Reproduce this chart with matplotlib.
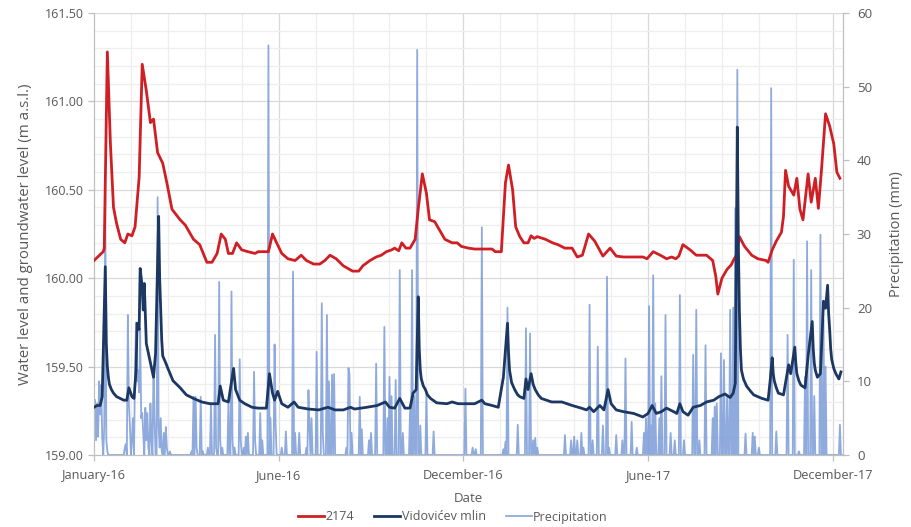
import numpy as np
import matplotlib
matplotlib.use("Agg")
import matplotlib.pyplot as plt
from matplotlib.ticker import MultipleLocator, FixedLocator

plt.rcParams['font.family'] = ['Open Sans', 'DejaVu Sans']

# ---------------- data (day index from 1 Jan 2016) ----------------
red_days = [0, 9, 10, 13, 16, 19, 22, 26, 30, 33, 37, 40, 44, 47, 51, 55, 58, 62, 67, 71, 76, 84, 89, 97,
            103, 110, 115, 120, 124, 128, 131, 135, 139, 144, 150, 157, 160, 170, 174, 178, 183, 189, 196,
            202, 207, 214, 220, 225, 230, 236, 243, 252, 258, 262, 269, 275, 280, 285, 290, 293, 297, 300,
            304, 308, 313, 316, 320, 324, 327, 332, 337, 342, 349, 354, 358, 365, 371, 388, 391, 397, 401,
            404, 408, 411, 415, 419, 423, 426, 429, 432, 440, 447, 452, 459, 466, 471, 476, 482, 488, 496,
            503, 509, 516, 526, 535, 539, 545, 552, 558, 563, 567, 570, 574, 581, 587, 597, 603, 606, 608,
            612, 617, 621, 624, 626, 629, 634, 641, 647, 655, 657, 661, 665, 670, 672, 674, 677, 682, 685,
            688, 691, 696, 699, 703, 706, 709, 713, 717, 721, 724, 727]
red_vals = [160.10, 160.15, 160.17, 161.28, 160.76, 160.40, 160.31, 160.22, 160.20, 160.25, 160.24, 160.29,
            160.57, 161.21, 161.06, 160.88, 160.90, 160.71, 160.65, 160.54, 160.39, 160.33, 160.30, 160.22,
            160.19, 160.09, 160.09, 160.14, 160.25, 160.22, 160.14, 160.14, 160.20, 160.16, 160.15, 160.14,
            160.15, 160.15, 160.25, 160.20, 160.14, 160.11, 160.10, 160.13, 160.10, 160.08, 160.08, 160.10,
            160.13, 160.11, 160.07, 160.04, 160.04, 160.07, 160.10, 160.12, 160.13, 160.15, 160.16, 160.17,
            160.155, 160.20, 160.17, 160.17, 160.22, 160.39, 160.59, 160.48, 160.33, 160.32, 160.27, 160.22,
            160.20, 160.20, 160.18, 160.17, 160.165, 160.165, 160.15, 160.15, 160.54, 160.64, 160.50, 160.29,
            160.235, 160.20, 160.20, 160.24, 160.225, 160.235, 160.22, 160.20, 160.19, 160.17, 160.17, 160.12,
            160.13, 160.25, 160.21, 160.125, 160.17, 160.125, 160.12, 160.12, 160.12, 160.11, 160.15, 160.13,
            160.11, 160.12, 160.11, 160.125, 160.19, 160.16, 160.13, 160.13, 160.10, 160.01, 159.91, 160.00,
            160.05, 160.075, 160.11, 160.13, 160.235, 160.18, 160.13, 160.11, 160.10, 160.09, 160.16, 160.21,
            160.26, 160.35, 160.61, 160.52, 160.47, 160.565, 160.39, 160.33, 160.59, 160.43, 160.565, 160.395,
            160.61, 160.93, 160.86, 160.76, 160.60, 160.565]

navy_days = [0, 3, 6, 8, 11, 12, 13, 14, 15, 17, 19, 22, 29, 32, 34, 37, 39, 41, 42, 44, 45, 47, 48, 49, 51,
             55, 58, 60, 63, 64, 65, 66, 67, 70, 72, 77, 84, 90, 97, 105, 113, 121, 123, 126, 131, 136, 138,
             142, 147, 154, 160, 168, 171, 174, 176, 179, 183, 189, 195, 199, 209, 219, 228, 235, 243, 250,
             254, 266, 276, 284, 288, 293, 298, 303, 308, 311, 314, 316, 317, 318, 319, 321, 323, 325, 328,
             334, 344, 349, 355, 365, 371, 378, 381, 388, 394, 399, 403, 404, 405, 407, 410, 413, 415, 419,
             421, 423, 426, 428, 430, 433, 436, 446, 456, 466, 475, 480, 483, 487, 493, 497, 501, 504, 509,
             516, 526, 535, 540, 544, 548, 553, 558, 565, 568, 571, 574, 579, 584, 591, 597, 604, 609, 615,
             620, 623, 625, 627, 628, 629, 630, 631, 633, 636, 640, 643, 651, 657, 659, 661, 662, 663, 665,
             667, 672, 675, 677, 679, 683, 684, 685, 687, 689, 693, 696, 700, 701, 702, 703, 705, 708, 711,
             713, 715, 716, 717, 718, 719, 721, 723, 726, 728]
navy_vals = [159.27, 159.28, 159.28, 159.33, 160.065, 159.63, 159.50, 159.44, 159.40, 159.37, 159.35, 159.33,
             159.31, 159.31, 159.38, 159.33, 159.32, 159.48, 159.745, 159.71, 160.055, 159.95, 159.82, 159.97,
             159.63, 159.52, 159.44, 159.575, 160.35, 160.00, 159.82, 159.65, 159.56, 159.52, 159.49, 159.42,
             159.38, 159.34, 159.32, 159.30, 159.29, 159.29, 159.39, 159.31, 159.30, 159.49, 159.37, 159.31,
             159.29, 159.27, 159.265, 159.265, 159.46, 159.35, 159.31, 159.36, 159.29, 159.27, 159.30, 159.27,
             159.26, 159.255, 159.27, 159.255, 159.255, 159.27, 159.26, 159.27, 159.28, 159.30, 159.27,
             159.265, 159.32, 159.265, 159.265, 159.35, 159.37, 159.895, 159.60, 159.48, 159.43, 159.39,
             159.37, 159.34, 159.32, 159.295, 159.29, 159.30, 159.29, 159.29, 159.29, 159.31, 159.29, 159.28,
             159.27, 159.44, 159.745, 159.58, 159.48, 159.41, 159.37, 159.34, 159.33, 159.32, 159.43, 159.37,
             159.46, 159.40, 159.37, 159.34, 159.32, 159.30, 159.30, 159.28, 159.265, 159.255, 159.27, 159.245,
             159.28, 159.255, 159.37, 159.29, 159.255, 159.245, 159.235, 159.215, 159.235, 159.28, 159.235,
             159.245, 159.265, 159.245, 159.235, 159.29, 159.245, 159.225, 159.27, 159.28, 159.30, 159.31,
             159.33, 159.345, 159.325, 159.35, 159.405, 160.855, 160.20, 159.82, 159.60, 159.48, 159.43,
             159.39, 159.36, 159.34, 159.32, 159.31, 159.42, 159.55, 159.46, 159.42, 159.38, 159.35, 159.34,
             159.44, 159.51, 159.46, 159.61, 159.52, 159.46, 159.42, 159.395, 159.38, 159.56, 159.755, 159.60,
             159.52, 159.48, 159.44, 159.46, 159.87, 159.83, 159.96, 159.80, 159.71, 159.60, 159.54, 159.49,
             159.46, 159.43, 159.47]

# precipitation: rain days (day index) and amounts in mm; other days are 0
rain_days = [0, 1, 2, 3, 4, 5, 6, 7, 8, 10, 11, 12, 13, 30, 31, 33, 34, 35, 37, 38, 40, 41, 42, 43, 44, 45,
             46, 47, 48, 50, 51, 52, 53, 55, 56, 58, 59, 62, 63, 64, 65, 66, 68, 70, 71, 74,
             95, 97, 99, 100, 104, 106, 111, 114, 118, 119, 122, 123, 125, 131, 134, 135, 137, 142, 143, 146,
             148, 150, 156, 157, 162, 164, 170, 172, 176, 177, 183, 187, 194, 196, 200, 207, 209, 210, 212,
             217, 222, 223, 227, 229, 232, 234, 246, 248, 249, 251, 259, 261, 268, 270, 275, 283, 286, 288,
             290, 294, 298, 301, 308, 310, 312, 315, 318, 324, 331, 362, 369, 372, 378, 399, 401, 403, 413,
             421, 425, 428, 430, 432, 459, 465, 468, 471, 475, 477, 483, 486, 491, 496, 500, 502, 509, 515,
             518, 524, 529, 536, 538, 541, 543, 545, 547, 551, 553, 557, 562, 566, 571, 575, 584, 587, 590,
             596, 603, 605, 607, 611, 614, 617, 620, 623, 625, 627, 635, 642, 644, 648, 660, 665, 676, 682,
             687, 693, 695, 699, 702, 708, 711, 713, 727]
rain_mm = [3, 7.5, 2, 7, 2.5, 10, 5.5, 9.5, 2.5, 4, 35, 2, 0.5, 1, 1.5, 19, 7, 4, 2, 5, 11.8, 18, 10, 11.5,
           8.5, 17, 5, 5.7, 3, 6.4, 2, 5.7, 1, 7, 2, 12, 5, 35, 3.8, 1, 5, 0.5, 3, 3.8, 1, 0.5,
           0.5, 7.9, 7.9, 1, 7.9, 0.5, 1, 7, 16.3, 1, 23.5, 2, 1, 7, 22.2, 2, 1, 13, 2, 1,
           2.5, 3, 11.3, 2, 5.7, 2, 55.6, 5, 15, 4, 1, 3.2, 24.9, 3, 3, 1, 8.8, 4, 5,
           14, 20.6, 3, 19, 10, 10.9, 11, 1, 11.8, 11, 3, 7.9, 3.5, 2, 3, 12.4, 17.4, 5, 10.6,
           8, 10.2, 25.1, 3, 6, 25.1, 8, 55, 4, 8.5, 3.2, 9, 1, 0.8, 30.9, 0.8, 1.8, 20, 4.1,
           17.2, 16.5, 2, 2.3, 1, 2.7, 2, 2.5, 2, 3, 1, 20.4, 2, 14.7, 4, 24.2, 1, 2.7, 2,
           13.1, 4.5, 1, 3, 5, 20.2, 4, 24.4, 7, 5, 10.7, 19, 3, 2, 21.7, 2, 13.6, 19.7, 2,
           14.9, 5, 6.6, 7, 13.8, 12.9, 8, 19.7, 20, 33.5, 52.3, 2.9, 3, 2.5, 1, 49.8, 3.2, 16.3, 26.5,
           0.5, 10.6, 29, 25.1, 8, 29.9, 18.3, 12, 4.1]

n_days = 730
x_tick_days = [0, 180, 360, 540, 720]
x_tick_labels = ["January-16", "June-16", "December-16", "June-17", "December-17"]
series_names = ["2174", "Vidovićev mlin", "Precipitation"]

precip_days = np.arange(n_days)
precip = np.zeros(n_days)
precip[np.array(rain_days)] = rain_mm

# ---------------- styling ----------------
RED = "#d01f24"
NAVY = "#1b3762"
LIGHT = "#7b9cd7"
TXT = "#595959"
GRID_MAJ = "#d9d9d9"
GRID_MIN = "#eeeeee"
AXIS = "#bfbfbf"

fig = plt.figure(figsize=(9.11, 5.27), dpi=100)
ax1 = fig.add_axes([94 / 911, 1 - 455 / 527, (843 - 94) / 911, (455 - 13) / 527])
ax2 = ax1.twinx()

# left axis on top of right axis so level lines cover precipitation
ax1.set_zorder(ax2.get_zorder() + 1)
ax1.patch.set_visible(False)
ax2.patch.set_visible(True)
ax2.patch.set_facecolor("white")

ax2.plot(precip_days, precip, color=LIGHT, lw=1.3, alpha=0.85, label=series_names[2], zorder=2)
ax1.plot(red_days, red_vals, color=RED, lw=2.0, label=series_names[0], zorder=3, solid_joinstyle='round')
ax1.plot(navy_days, navy_vals, color=NAVY, lw=2.0, label=series_names[1], zorder=4, solid_joinstyle='round')

ax1.set_xlim(0, n_days)
ax1.set_ylim(159.0, 161.5)
ax2.set_ylim(0, 60)

ax1.xaxis.set_major_locator(FixedLocator(x_tick_days))
ax1.set_xticklabels(x_tick_labels)
ax1.xaxis.set_minor_locator(MultipleLocator(36))
ax1.yaxis.set_major_locator(MultipleLocator(0.5))
ax1.yaxis.set_minor_locator(MultipleLocator(0.1))
ax1.yaxis.set_major_formatter(matplotlib.ticker.FormatStrFormatter("%.2f"))
ax2.yaxis.set_major_locator(MultipleLocator(10))

# grids drawn on the bottom axes (behind everything)
for d in np.arange(36, n_days, 36):
    is_major = d in x_tick_days
    ax2.axvline(d, color=GRID_MAJ if is_major else GRID_MIN, lw=0.9, zorder=0.5)
for lv in np.arange(159.1, 161.51, 0.1):
    is_major = abs((lv * 2) - round(lv * 2)) < 1e-6
    ax2.axhline((lv - 159.0) / 2.5 * 60, color=GRID_MAJ if is_major else GRID_MIN, lw=0.9, zorder=0.5)

for ax in (ax1, ax2):
    ax.spines["top"].set_visible(False)
    ax.spines["left"].set_color(AXIS)
    ax.spines["right"].set_color(AXIS)
    ax.spines["bottom"].set_color(AXIS)
    ax.tick_params(colors=AXIS, labelcolor=TXT, labelsize=9.0, length=4, width=0.9)
    ax.tick_params(which="minor", length=0)
ax1.tick_params(axis="x", labelsize=9.2, pad=6)
ax2.tick_params(axis="y", pad=6, labelsize=9.5)

ax1.set_xlabel("Date", color=TXT, fontsize=9.5, labelpad=7)
ax1.set_ylabel("Water level and groundwater level (m a.s.l.)", color=TXT, fontsize=10.8, labelpad=8)
ax2.set_ylabel("Precipitation (mm)", color=TXT, fontsize=10.5, labelpad=12)

h1, l1 = ax1.get_legend_handles_labels()
h2, l2 = ax2.get_legend_handles_labels()
leg = fig.legend(h1 + h2, l1 + l2, loc="center", bbox_to_anchor=(0.497, 10 / 527), ncol=3,
                 frameon=False, fontsize=9.0, handlelength=2.1, handletextpad=0.1, columnspacing=1.6,
                 labelcolor=TXT)

fig.savefig("out.png", dpi=100, facecolor="white")
